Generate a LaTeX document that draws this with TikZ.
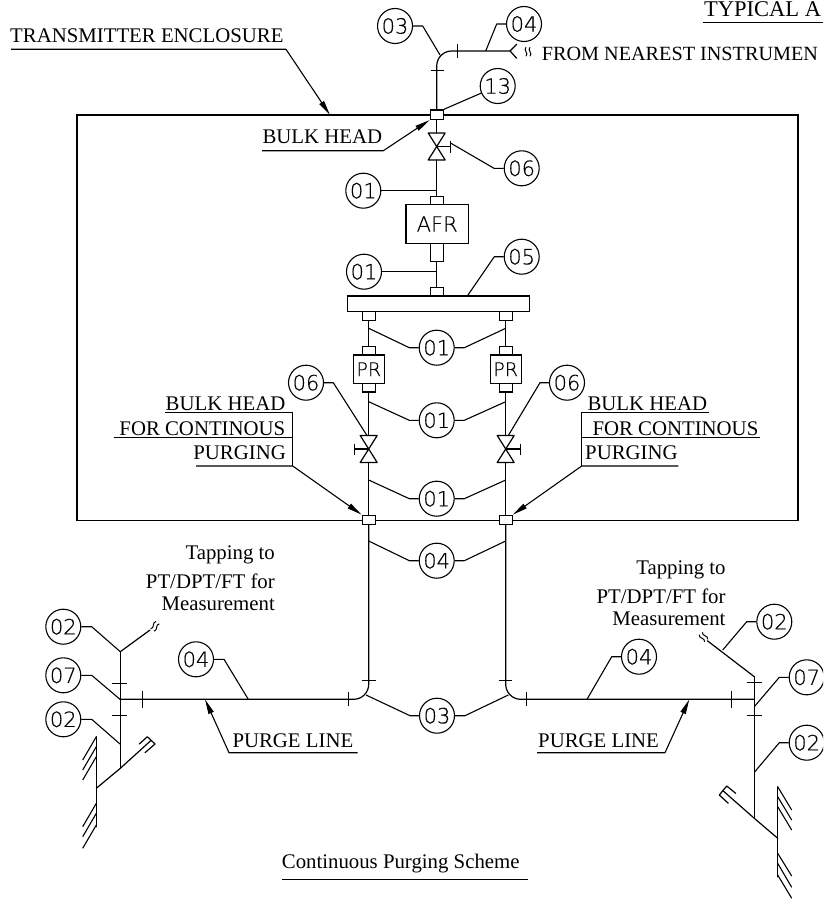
\documentclass[tikz,border=0pt]{standalone}
\usepackage{fontspec}
\usetikzlibrary{arrows.meta}
\setmainfont{Liberation Serif}
\newfontfamily\tagfont[FakeBold=0.3]{DejaVu Sans ExtraLight}
\tikzset{
  pipe/.style={line width=1.2pt,line cap=round,line join=round},
  lead/.style={line width=1.1pt,line join=round},
  tick/.style={line width=1.1pt},
  darrow/.style={lead,-{Triangle[length=15pt,width=5.5pt]}},
  tagc/.style={circle,draw,line width=1.1pt,minimum size=35pt,inner sep=0pt,font=\tagfont\fontsize{21}{21}\selectfont},
  boxs/.style={rectangle,draw,fill=white,line width=1.2pt,inner sep=0pt,minimum width=13pt,minimum height=#1},
  boxs/.default=8.5pt,
  boxb/.style={rectangle,draw,fill=white,line width=1.2pt,inner sep=0pt},
  caption/.style={inner sep=0pt,font=\fontsize{20.8}{20.8}\selectfont},
  valve/.pic={\draw[pipe] (-8.5,-13.5) -- (8.5,-13.5) -- (-8.5,13.5) -- (8.5,13.5) -- cycle;},
  squig/.pic={\draw[line width=1pt] (-2,-4.5) .. controls (-5,-1.5) and (1,1.5) .. (-2,4.5)
     (2,-4.5) .. controls (-1,-1.5) and (5,1.5) .. (2,4.5);}
}
\begin{document}
\begin{tikzpicture}[x=1pt,y=-1pt]
\useasboundingbox (0,0) rectangle (823,899);
\clip (0,0) rectangle (823,899);
% enclosure
\node[draw,line width=1.2pt,inner sep=0pt,minimum width=721pt,minimum height=405.7pt] (encl) at (437.5,317.85) {};
% coordinates
\coordinate (vT) at (436.7,146.5);
\coordinate (vL) at (368.7,449);
\coordinate (vR) at (505.7,449);
\coordinate (inlet) at (510,51);
\coordinate (jL) at (120,699.3);
\coordinate (jR) at (754.3,699.3);
% boxes
\node[boxs=9.5pt] (bh0) at (436.7,114.7) {};
\node[boxs=9.5pt] (bhL) at (368.7,520) {};
\node[boxs=9.5pt] (bhR) at (505.7,520) {};
\node[boxs=8.5pt] (a1) at (436.7,200.7) {};
\node[boxb,minimum width=62.5pt,minimum height=38.5pt,font=\tagfont\fontsize{21}{21}\selectfont] (afr) at (437.2,224) {AFR};
\node[boxs=18.5pt] (a2) at (436.7,252.5) {};
\node[boxs=8.5pt] (a3) at (436.7,291.7) {};
\node[boxb,minimum width=182pt,minimum height=15.7pt] (man) at (438.3,303.8) {};
\node[boxs=8.5pt] (m1) at (368.7,316) {};
\node[boxs=8.5pt] (m2) at (505.7,316) {};
\node[boxs=8.5pt] (p1) at (368.7,351) {};
\node[boxs=8.5pt] (p2) at (505.7,351) {};
\node[boxb,minimum width=31pt,minimum height=28.5pt,font=\tagfont\fontsize{19}{19}\selectfont] (prL) at (368.8,369.2) {PR};
\node[boxb,minimum width=31pt,minimum height=28.5pt,font=\tagfont\fontsize{19}{19}\selectfont] (prR) at (505.7,369.2) {PR};
\node[boxs=8.5pt] (q1) at (368.7,387.7) {};
\node[boxs=8.5pt] (q2) at (505.7,387.7) {};
% pipes
\draw[pipe,rounded corners=15pt] (bh0.north) |- (inlet);
\draw[pipe] (516.7,44.3) -- (inlet) -- (516.7,58.3);
\draw[pipe] (bh0.south) -- ([yshift=13.5pt]vT);
\draw[pipe] ([yshift=-13.5pt]vT) -- (a1.north);
\draw[pipe] (a2.south) -- (a3.north);
\draw[pipe] (m1.south) -- (p1.north);
\draw[pipe] (m2.south) -- (p2.north);
\draw[pipe] (q1.south) -- ([yshift=13.5pt]vL);
\draw[pipe] (q2.south) -- ([yshift=13.5pt]vR);
\draw[pipe] ([yshift=-13.5pt]vL) -- (bhL.north);
\draw[pipe] ([yshift=-13.5pt]vR) -- (bhR.north);
\draw[pipe,rounded corners=15pt] (bhL.south) |- (jL);
\draw[pipe,rounded corners=15pt] (bhR.south) |- (jR);
\coordinate (topL) at (120.3,651.7);
\coordinate (botL) at (120.3,768.3);
\coordinate (topR) at (754.3,676.7);
\coordinate (botR) at (754.3,818.3);
\draw[pipe] (topL) -- (botL);
\draw[pipe] (topR) -- (botR);
% valves
\pic at (vT) {valve};
\pic at (vL) {valve};
\pic at (vR) {valve};
\draw[tick] (vT) -- (450.3,146.5) (450.3,141) -- (450.3,152.5);
\draw[tick] (vL) -- (354.3,449) (354.3,443.5) -- (354.3,455);
\draw[tick] (vR) -- (520.3,449) (520.3,443.5) -- (520.3,455);
% ticks
\draw[tick] (457.7,44) -- (457.7,58);
\draw[tick] (430.5,70.7) -- (444,70.7);
\draw[tick] (362,680.3) -- (375.7,680.3);
\draw[tick] (499,680.3) -- (512.3,680.3);
\draw[tick] (348.3,692.3) -- (348.3,706);
\draw[tick] (526.3,692.3) -- (526.3,706);
\draw[tick] (142.7,690.7) -- (142.7,707.7);
\draw[tick] (112.3,683.3) -- (127.3,683.3);
\draw[tick] (112.3,715.7) -- (127.3,715.7);
\draw[tick] (731.7,690.7) -- (731.7,707.7);
\draw[tick] (746.7,682.7) -- (761.7,682.7);
\draw[tick] (746.7,715.3) -- (761.7,715.3);
% tag circles
\node[tagc] (t03a) at (395,26) {03};
\node[tagc] (t04a) at (524,24) {04};
\node[tagc] (t13) at (497.7,86) {13};
\node[tagc] (t06a) at (521.7,168.3) {06};
\node[tagc] (t01a) at (363.3,190.7) {01};
\node[tagc] (t01b) at (364,271.7) {01};
\node[tagc] (t05) at (521.7,256.7) {05};
\node[tagc] (t01c) at (436.7,347.7) {01};
\node[tagc] (t01d) at (436.7,420.3) {01};
\node[tagc] (t01e) at (436.7,498.7) {01};
\node[tagc] (t06b) at (306,382.7) {06};
\node[tagc] (t06c) at (567,382.7) {06};
\node[tagc] (t04b) at (436.7,560.7) {04};
\node[tagc] (t03b) at (437,715.7) {03};
\node[tagc] (t02a) at (63.3,626.7) {02};
\node[tagc] (t07a) at (63.3,675.3) {07};
\node[tagc] (t02b) at (63.3,719.3) {02};
\node[tagc] (t04c) at (196,659.3) {04};
\node[tagc] (t04d) at (639,656.7) {04};
\node[tagc] (t02c) at (774.3,621.7) {02};
\node[tagc] (t07b) at (806.7,677.3) {07};
\node[tagc] (t02d) at (806.7,742.7) {02};
% leaders
\draw[lead] (t03a.east) -- (422.7,26) -- (440,55);
\draw[lead] (t04a.west) -- (496.7,24) -- (485.7,51);
\draw[lead] (bh0.north east) -- (t13);
\draw[lead] (t06a.west) -- (494,168.3) -- (451,143.3);
\draw[lead] (t01a.east) -- (436.7,190.7);
\draw[lead] (t01b.east) -- (436.7,271.7);
\draw[lead] (t05.west) -- (494.3,256.7) -- (467.3,296);
\draw[lead] (t01c.west) -- (409.3,347.7) -- (368.7,328.3);
\draw[lead] (t01c.east) -- (464.3,347.7) -- (505.7,328.3);
\draw[lead] (t01d.west) -- (409.3,420.3) -- (368.7,401.7);
\draw[lead] (t01d.east) -- (464.3,420.3) -- (505.7,401.7);
\draw[lead] (t01e.west) -- (409.3,498.7) -- (368.7,480);
\draw[lead] (t01e.east) -- (464.3,498.7) -- (505.7,480);
\draw[lead] (t06b.east) -- (333.3,382.7) -- (367,435.5);
\draw[lead] (t06c.west) -- (540,382.7) -- (508.3,435.5);
\draw[lead] (t04b.west) -- (409.3,560.7) -- (368.7,541);
\draw[lead] (t04b.east) -- (464.3,560.7) -- (505.7,541);
\draw[lead] (t03b.west) -- (410,715.7) -- (366,695);
\draw[lead] (t03b.east) -- (465,715.7) -- (508.3,695);
\draw[lead] (t02a.east) -- (91.7,626.7) -- (topL);
\draw[lead] (t07a.east) -- (91.7,675.3) -- (jL);
\draw[lead] (t02b.east) -- (91.7,719.3) -- (120,744);
\draw[lead] (t04c.east) -- (224,659.3) -- (248.3,699.3);
\draw[lead] (t04d.west) -- (611.7,656.7) -- (587,699.3);
\draw[lead] (t02c.west) -- (746.7,621.7) -- (722.7,650);
\draw[lead] (t07b.west) -- (779.3,677.3) -- (754.3,706.7);
\draw[lead] (t02d.west) -- (779.3,742.7) -- (754.3,772.3);
% branches with squiggles
\draw[pipe] (topL) -- (150,630);
\pic[rotate=-36] at (155,626.3) {squig};
\draw[pipe] (topR) -- (707.3,640.7);
\pic[rotate=37] at (703.5,637) {squig};
\pic at (528,51.7) {squig};
% supports left
\draw[pipe] (96.3,788.3) -- (botL) -- (150.7,740.7);
\draw[pipe] (139.3,744) -- (147.3,736.7) -- (155,744) -- (145,752.7);
\draw[pipe] (96.3,736.7) -- (96.3,826.7);
\draw[tick] (96.3,736.7) -- (82.7,760) (96.3,746.7) -- (82.7,770) (96.3,756.7) -- (82.7,780)
  (96.3,803.3) -- (82.7,826.7) (96.3,813.3) -- (82.7,836.7) (96.3,825) -- (82.7,848.3);
% supports right
\draw[pipe] (777.7,838.3) -- (botR) -- (723.3,791);
\draw[pipe] (735.7,793.3) -- (726.7,786) -- (719.3,795) -- (728.3,803.3);
\draw[pipe] (777.7,786.7) -- (777.7,876.7);
\draw[tick] (777.7,786.7) -- (791.7,810) (777.7,796.7) -- (791.7,820) (777.7,806.7) -- (791.7,830)
  (777.7,853.3) -- (791.7,876) (777.7,863.3) -- (791.7,887.3) (777.7,875) -- (791.7,898.3);
% captions
\node[caption,anchor=base west,font=\fontsize{22.5}{22.5}\selectfont] (typ) at (704,17) {TYPICAL A};
\draw[lead] (702.7,22.7) -- (823,22.7);
\node[caption,anchor=base west] (txe) at (10,42.3) {TRANSMITTER ENCLOSURE};
\node[caption,anchor=base west,font=\fontsize{20.2}{20.2}\selectfont] (txf) at (541.7,60) {FROM NEAREST INSTRUMEN};
\node[caption,anchor=base west] (txb) at (262.3,143.3) {BULK HEAD};
\draw[darrow] (11,49.3) -- (286,49.3) -- (330,115);
\draw[darrow] (262,150.7) -- (383.3,150.7) -- (bh0.south west);
% left bulk head
\node[caption,anchor=base east] (l1) at (285.5,410) {BULK HEAD};
\node[caption,anchor=base east] (l2) at (285.5,435) {FOR CONTINOUS};
\node[caption,anchor=base east] (l3) at (286,459.3) {PURGING};
\draw[lead] (165,412.3) -- (292.7,412.3) (114,437.3) -- (292.7,437.3) (292.7,412.3) -- (292.7,466);
\draw[darrow] (196,466) -- (292.7,466) -- (bhL.north west);
% right bulk head
\node[caption,anchor=base west] (r1) at (587.3,410) {BULK HEAD};
\node[caption,anchor=base west] (r2) at (592.3,435) {FOR CONTINOUS};
\node[caption,anchor=base west] (r3) at (585,459.3) {PURGING};
\draw[lead] (709.3,412.3) -- (581.7,412.3) (760,437.3) -- (581.7,437.3) (581.7,412.3) -- (581.7,466);
\draw[darrow] (678.3,466) -- (581.7,466) -- (bhR.north east);
% tapping
\node[caption,anchor=base east] (tl1) at (275,559) {Tapping to};
\node[caption,anchor=base east] (tl2) at (275,588.3) {PT/DPT/FT for};
\node[caption,anchor=base east] (tl3) at (275,610) {Measurement};
\node[caption,anchor=base east] (tr1) at (725.7,574) {Tapping to};
\node[caption,anchor=base east] (tr2) at (725.7,603.3) {PT/DPT/FT for};
\node[caption,anchor=base east] (tr3) at (725.7,625) {Measurement};
% purge lines
\node[caption,anchor=base west] (pl1) at (232.3,747.3) {PURGE LINE};
\node[caption,anchor=base west] (pl2) at (538,747.3) {PURGE LINE};
\draw[darrow] (357.7,752.7) -- (229,752.7) -- (205,699.3);
\draw[darrow] (537,752.7) -- (665,752.7) -- (689.3,699.3);
% title
\node[caption,anchor=base west] (ttl) at (281.7,868.3) {Continuous Purging Scheme};
\draw[lead] (281.7,879.3) -- (528.3,879.3);
\end{tikzpicture}
\end{document}
